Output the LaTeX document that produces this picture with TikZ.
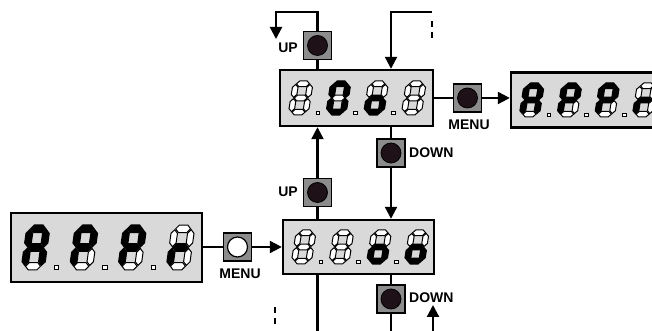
\documentclass[tikz,border=0pt]{standalone}
\usepackage{fontspec}
\newfontfamily\labfont{Liberation Sans}
\usetikzlibrary{arrows.meta}
\definecolor{dispfill}{HTML}{D9D9D9}
\definecolor{btnfill}{HTML}{8C8C8C}
\definecolor{knob}{HTML}{1E1218}
\tikzset{
 disp/.style={draw=black, line width=2.4pt, fill=dispfill, rectangle, inner sep=0pt},
 btn/.style={draw=black, line width=1.3pt, fill=btnfill, rectangle, minimum size=28pt, inner sep=0pt},
 knobd/.style={circle, fill=knob, draw=black, line width=0.8pt, minimum size=20pt, inner sep=0pt},
 knobw/.style={circle, fill=white, draw=black, line width=1.2pt, minimum size=20pt, inner sep=0pt},
 conn/.style={line width=2.2pt},
 arr/.style={conn, -{Triangle[length=12pt,width=12pt]}},
 dashedconn/.style={line width=2.6pt, dash pattern=on 6pt off 5pt},
 lab/.style={font=\labfont\bfseries\fontsize{14}{15}\selectfont, inner sep=0pt},
 seg0/.style={fill=white, draw=black, line width=1pt, line join=miter},
 seg1/.style={fill=black, draw=black, line width=1.3pt},
}
\def\hh{2.8}
% horizontal segment: x1 x2 y flag
\newcommand\hseg[4]{\path[seg#4] (#1,#3) -- ++(\hh,\hh) -- (#2-\hh,#3+\hh) -- (#2,#3) -- (#2-\hh,#3-\hh) -- (#1+\hh,#3-\hh) -- cycle;}
% vertical segment: x y1 y2 flag
\newcommand\vseg[4]{\path[seg#4] (#1,#2) -- ++(\hh,\hh) -- (#1+\hh,#3-\hh) -- (#1,#3) -- (#1-\hh,#3-\hh) -- (#1-\hh,#2+\hh) -- cycle;}
% digit: origin, scale options, a b c d e f g
\newcommand\sdig[9]{%
 \begin{scope}[shift={#1}, #2, xslant=0.16]
 \hseg{3.5}{16.5}{31.2}{#3}%
 \vseg{17.2}{17.7}{30.5}{#4}%
 \vseg{17.2}{3.5}{16.3}{#5}%
 \hseg{3.5}{16.5}{2.8}{#6}%
 \vseg{2.8}{3.5}{16.3}{#7}%
 \vseg{2.8}{17.7}{30.5}{#8}%
 \hseg{3.5}{16.5}{17}{#9}%
 \end{scope}}
\newcommand\sdp[2]{\begin{scope}[shift={#1}, #2]\path[seg0] (28,0.3) rectangle (31.6,3.9);\end{scope}}
\begin{document}
\begin{tikzpicture}[x=1pt,y=1pt]
\useasboundingbox (0,0) rectangle (652,331);
\clip (0,0) rectangle (652,331);
% displays
\node[disp, minimum width=153pt, minimum height=56pt] (dtop) at (356.5,233) {};
\node[disp, minimum width=153pt, minimum height=55pt] (dright) at (587.5,231) {};
\node[disp, minimum width=191pt, minimum height=69pt] (dleft) at (106.5,83.5) {};
\node[disp, minimum width=151pt, minimum height=54pt] (dbot) at (358.5,84) {};
% top display digits
\sdig{(288,216)}{scale=1}0000000
\sdig{(325.7,216)}{scale=1}1111110
\sdig{(363.4,216)}{scale=1}0011101
\sdig{(401.1,216)}{scale=1}0000000
\sdp{(288,216)}{scale=1}\sdp{(325.7,216)}{scale=1}\sdp{(363.4,216)}{scale=1}
% right display digits
\sdig{(519,214)}{scale=1}1110111
\sdig{(556.7,214)}{scale=1}1100111
\sdig{(594.4,214)}{scale=1}1100111
\sdig{(632.1,214)}{scale=1}0000101
\sdp{(519,214)}{scale=1}\sdp{(556.7,214)}{scale=1}\sdp{(594.4,214)}{scale=1}
% bottom display digits
\sdig{(291,67)}{scale=1}0000000
\sdig{(328.7,67)}{scale=1}0000000
\sdig{(366.4,67)}{scale=1}0011101
\sdig{(404.1,67)}{scale=1}0011101
\sdp{(291,67)}{scale=1}\sdp{(328.7,67)}{scale=1}\sdp{(366.4,67)}{scale=1}
% left display digits
\sdig{(21,61)}{xscale=1.15,yscale=1.32}1110111
\sdig{(69.3,61)}{xscale=1.15,yscale=1.32}1100111
\sdig{(117.6,61)}{xscale=1.15,yscale=1.32}1100111
\sdig{(165.9,61)}{xscale=1.15,yscale=1.32}0000101
\sdp{(21,61)}{xscale=1.2,yscale=1.2}\sdp{(69.3,61)}{xscale=1.2,yscale=1.2}\sdp{(117.6,61)}{xscale=1.2,yscale=1.2}
% buttons
\node[btn] (bup1) at (317.5,285.5) {};
\node[knobd] (kup1) at (bup1) {};
\node[btn] (bmenu1) at (467.5,233) {};
\node[knobd] (kmenu1) at (bmenu1) {};
\node[btn] (bdown1) at (391,178) {};
\node[knobd] (kdown1) at (bdown1) {};
\node[btn] (bup2) at (317.5,138.5) {};
\node[knobd] (kup2) at (bup2) {};
\node[btn] (bmenu2) at (237.5,84) {};
\node[knobw] (kmenu2) at (bmenu2) {};
\node[btn] (bdown2) at (391,32) {};
\node[knobd] (kdown2) at (bdown2) {};
% coordinates for free ends
\coordinate (c1) at (276,319);
\coordinate (c1t) at (276,292);
\coordinate (c2) at (432,319);
\coordinate (c3a) at (432,310);
\coordinate (c3b) at (432,293);
\coordinate (e1) at (317.5,0);
\coordinate (e2) at (391,0);
\coordinate (e3) at (433,0);
\coordinate (e3t) at (433,26);
\coordinate (d1) at (275,24);
\coordinate (d2) at (275,6);
% connectors
\draw[conn] (bup1.south) -- (bup1.south |- dtop.north);
\draw[arr] (bup1.north) |- (c1) -- (c1t);
\draw[arr] (c2) -| (dtop.north -| bdown1);
\draw[dashedconn] (c3a) -- (c3b);
\draw[conn] (dtop.east |- bmenu1) -- (bmenu1.west);
\draw[arr] (bmenu1.east) -- (bmenu1.east -| dright.west);
\draw[conn] (dtop.south -| bdown1) -- (bdown1.north);
\draw[arr] (bdown1.south) -- (bdown1 |- dbot.north);
\draw[conn] (dbot.north -| bup2) -- (bup2.south);
\draw[arr] (bup2.north) -- (bup2 |- dtop.south);
\draw[conn] (dleft.east |- bmenu2) -- (bmenu2.west);
\draw[arr] (bmenu2.east) -- (bmenu2 -| dbot.west);
\draw[conn] (dbot.south -| bup2) -- (e1);
\draw[conn] (dbot.south -| bdown2) -- (bdown2.north);
\draw[conn] (bdown2.south) -- (e2);
\draw[arr] (e3) -- (e3t);
\draw[dashedconn] (d1) -- (d2);
% labels
\node[lab, anchor=east] (lup1) at (298,283) {UP};
\node[lab] (lmenu1) at (469,206) {MENU};
\node[lab, anchor=west] (ldown1) at (409,178) {DOWN};
\node[lab, anchor=east] (lup2) at (298,139) {UP};
\node[lab] (lmenu2) at (240,57) {MENU};
\node[lab, anchor=west] (ldown2) at (409,33) {DOWN};
\end{tikzpicture}
\end{document}
